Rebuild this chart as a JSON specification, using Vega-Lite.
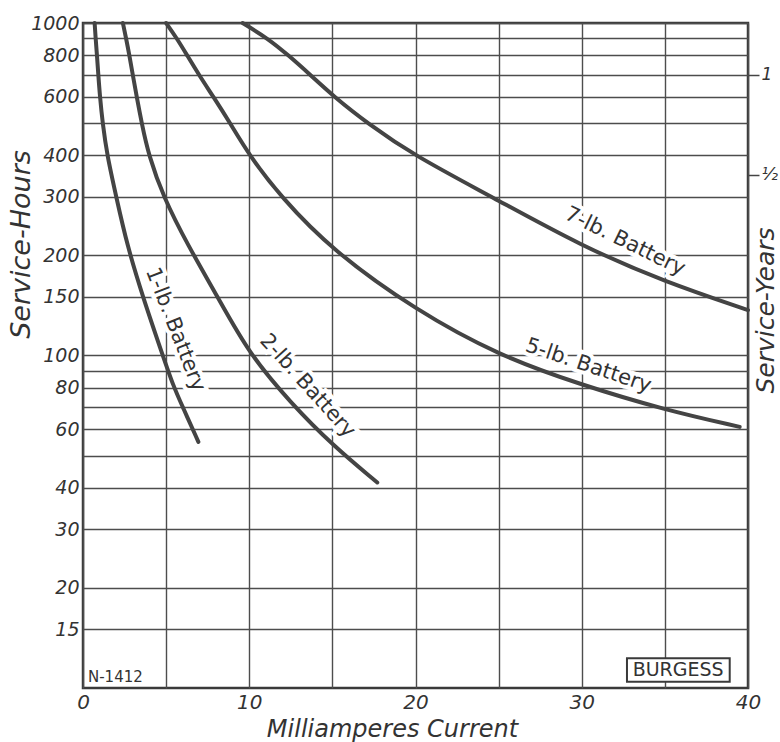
{
  "$schema": "https://vega.github.io/schema/vega-lite/v6.json",
  "width": 665,
  "height": 665,
  "autosize": {"type": "none"},
  "padding": {"left": 83, "top": 23, "right": 32, "bottom": 54},
  "background": "white",
  "config": {"view": {"stroke": "#3a3a3a", "strokeWidth": 2.5}, "font": "DejaVu Sans"},
  "datasets": {
    "curves": [
      {"battery": "1-lb", "ma": 0.7, "hours": 1000},
      {"battery": "1-lb", "ma": 0.76, "hours": 900},
      {"battery": "1-lb", "ma": 0.84, "hours": 800},
      {"battery": "1-lb", "ma": 0.92, "hours": 700},
      {"battery": "1-lb", "ma": 1.02, "hours": 600},
      {"battery": "1-lb", "ma": 1.18, "hours": 500},
      {"battery": "1-lb", "ma": 1.45, "hours": 400},
      {"battery": "1-lb", "ma": 2.0, "hours": 300},
      {"battery": "1-lb", "ma": 2.65, "hours": 215},
      {"battery": "1-lb", "ma": 3.6, "hours": 150},
      {"battery": "1-lb", "ma": 4.8, "hours": 100},
      {"battery": "1-lb", "ma": 5.43, "hours": 81},
      {"battery": "1-lb", "ma": 6.0, "hours": 70},
      {"battery": "1-lb", "ma": 6.94, "hours": 55},
      {"battery": "2-lb", "ma": 2.4, "hours": 1000},
      {"battery": "2-lb", "ma": 2.59, "hours": 900},
      {"battery": "2-lb", "ma": 2.79, "hours": 800},
      {"battery": "2-lb", "ma": 2.99, "hours": 700},
      {"battery": "2-lb", "ma": 3.23, "hours": 600},
      {"battery": "2-lb", "ma": 3.53, "hours": 500},
      {"battery": "2-lb", "ma": 3.95, "hours": 400},
      {"battery": "2-lb", "ma": 4.83, "hours": 300},
      {"battery": "2-lb", "ma": 6.3, "hours": 215},
      {"battery": "2-lb", "ma": 8.1, "hours": 150},
      {"battery": "2-lb", "ma": 10.0, "hours": 101},
      {"battery": "2-lb", "ma": 12.5, "hours": 72},
      {"battery": "2-lb", "ma": 15.0, "hours": 53.8},
      {"battery": "2-lb", "ma": 17.7, "hours": 41.5},
      {"battery": "5-lb", "ma": 5.0, "hours": 1000},
      {"battery": "5-lb", "ma": 5.64, "hours": 900},
      {"battery": "5-lb", "ma": 6.26, "hours": 800},
      {"battery": "5-lb", "ma": 6.96, "hours": 700},
      {"battery": "5-lb", "ma": 7.84, "hours": 600},
      {"battery": "5-lb", "ma": 8.85, "hours": 500},
      {"battery": "5-lb", "ma": 10.0, "hours": 400},
      {"battery": "5-lb", "ma": 11.9, "hours": 300},
      {"battery": "5-lb", "ma": 15.0, "hours": 207},
      {"battery": "5-lb", "ma": 20.0, "hours": 137},
      {"battery": "5-lb", "ma": 25.0, "hours": 100},
      {"battery": "5-lb", "ma": 30.0, "hours": 81.5},
      {"battery": "5-lb", "ma": 35.0, "hours": 68.6},
      {"battery": "5-lb", "ma": 39.5, "hours": 61},
      {"battery": "7-lb", "ma": 9.6, "hours": 1000},
      {"battery": "7-lb", "ma": 11.1, "hours": 900},
      {"battery": "7-lb", "ma": 12.35, "hours": 800},
      {"battery": "7-lb", "ma": 13.65, "hours": 700},
      {"battery": "7-lb", "ma": 15.1, "hours": 600},
      {"battery": "7-lb", "ma": 17.1, "hours": 500},
      {"battery": "7-lb", "ma": 19.9, "hours": 400},
      {"battery": "7-lb", "ma": 24.6, "hours": 300},
      {"battery": "7-lb", "ma": 30.0, "hours": 213},
      {"battery": "7-lb", "ma": 35.0, "hours": 166.7},
      {"battery": "7-lb", "ma": 40.0, "hours": 137}
    ],
    "labels": [
      {"battery": "1-lb", "text": "1-lb. Battery", "ma": 5.55, "hours": 119.7},
      {"battery": "2-lb", "text": "2-lb. Battery", "ma": 13.5, "hours": 81},
      {"battery": "5-lb", "text": "5-lb. Battery", "ma": 30.4, "hours": 93},
      {"battery": "7-lb", "text": "7-lb. Battery", "ma": 32.6, "hours": 220}
    ],
    "notes": [
      {"text": "N-1412", "ma": 0.3, "hours": 10.45}
    ],
    "box": [
      {"text": "BURGESS", "x1": 32.72, "x2": 38.9, "y1": 10.45, "y2": 12.28, "xm": 35.8, "ym": 11.33}
    ]
  },
  "resolve": {"axis": {"x": "independent", "y": "independent"}},
  "layer": [
    {
      "data": {"name": "labels"},
      "transform": [{"filter": "datum.battery === '1-lb'"}],
      "mark": {"type": "text", "angle": 68.6, "align": "center", "baseline": "middle", "fontSize": 21, "color": "white", "stroke": "white", "strokeWidth": 8},
      "encoding": {
        "x": {"field": "ma", "type": "quantitative", "axis": null},
        "y": {"field": "hours", "type": "quantitative", "axis": null},
        "text": {"field": "text"}
      }
    },
    {
      "data": {"name": "labels"},
      "transform": [{"filter": "datum.battery === '2-lb'"}],
      "mark": {"type": "text", "angle": 48, "align": "center", "baseline": "middle", "fontSize": 21, "color": "white", "stroke": "white", "strokeWidth": 8},
      "encoding": {
        "x": {"field": "ma", "type": "quantitative", "axis": null},
        "y": {"field": "hours", "type": "quantitative", "axis": null},
        "text": {"field": "text"}
      }
    },
    {
      "data": {"name": "labels"},
      "transform": [{"filter": "datum.battery === '5-lb'"}],
      "mark": {"type": "text", "angle": 18.6, "align": "center", "baseline": "middle", "fontSize": 21, "color": "white", "stroke": "white", "strokeWidth": 8},
      "encoding": {
        "x": {"field": "ma", "type": "quantitative", "axis": null},
        "y": {"field": "hours", "type": "quantitative", "axis": null},
        "text": {"field": "text"}
      }
    },
    {
      "data": {"name": "labels"},
      "transform": [{"filter": "datum.battery === '7-lb'"}],
      "mark": {"type": "text", "angle": 26, "align": "center", "baseline": "middle", "fontSize": 21, "color": "white", "stroke": "white", "strokeWidth": 8},
      "encoding": {
        "x": {"field": "ma", "type": "quantitative", "axis": null},
        "y": {"field": "hours", "type": "quantitative", "axis": null},
        "text": {"field": "text"}
      }
    },
    {
      "data": {"name": "curves"},
      "mark": {"type": "line", "interpolate": "basis", "strokeWidth": 4, "color": "#444444", "strokeCap": "round"},
      "encoding": {
        "x": {
          "field": "ma", "type": "quantitative",
          "scale": {"domain": [0, 40], "nice": false},
          "axis": {
            "values": [0, 5, 10, 15, 20, 25, 30, 35, 40],
            "labelExpr": "datum.value % 10 === 0 ? datum.label : ''",
            "grid": true, "gridColor": "#4d4d4d", "gridWidth": 1.4, "gridOpacity": 1,
            "ticks": false, "domain": false,
            "labelFontSize": 20, "labelFontStyle": "italic", "labelColor": "#333333",
            "labelPadding": 4, "labelFlush": false, "labelOverlap": false,
            "title": "Milliamperes Current", "titleFontSize": 24, "titleFontStyle": "italic",
            "titleFontWeight": "normal", "titleColor": "#333333",
            "titleX": 309, "titleY": 48, "titleAlign": "center", "titleBaseline": "alphabetic"
          }
        },
        "y": {
          "field": "hours", "type": "quantitative",
          "scale": {"type": "log", "domain": [10, 1000], "nice": false},
          "axis": {
            "orient": "left",
            "values": [15, 20, 30, 40, 50, 60, 70, 80, 90, 100, 150, 200, 300, 400, 500, 600, 700, 800, 900, 1000],
            "format": "d",
            "labelExpr": "(datum.value === 900 || datum.value === 700 || datum.value === 500 || datum.value === 90 || datum.value === 70 || datum.value === 50) ? '' : datum.label",
            "grid": true, "gridColor": "#4d4d4d", "gridWidth": 1.4, "gridOpacity": 1,
            "ticks": false, "domain": false,
            "labelFontSize": 19, "labelFontStyle": "italic", "labelColor": "#333333",
            "labelPadding": 4, "labelOverlap": false,
            "title": "Service-Hours", "titleFontSize": 27, "titleFontStyle": "italic",
            "titleFontWeight": "normal", "titleColor": "#333333",
            "titleAngle": 270, "titleX": -62, "titleY": 221, "titleAlign": "center", "titleBaseline": "middle"
          }
        },
        "detail": {"field": "battery"}
      }
    },
    {
      "data": {"name": "notes"},
      "mark": {"type": "text", "align": "left", "baseline": "alphabetic", "fontSize": 15, "color": "#333333"},
      "encoding": {
        "x": {"field": "ma", "type": "quantitative", "axis": null},
        "y": {
          "field": "hours", "type": "quantitative",
          "axis": {
            "orient": "right",
            "values": [350, 700],
            "labelExpr": "datum.value === 700 ? '1' : '½'",
            "ticks": true, "tickSize": 11, "tickWidth": 1.5, "tickColor": "#444444",
            "domain": false, "grid": false,
            "labelFontSize": 17, "labelFontStyle": "italic", "labelColor": "#333333", "labelPadding": 2,
            "title": "Service-Years", "titleFontSize": 25, "titleFontStyle": "italic",
            "titleFontWeight": "normal", "titleColor": "#333333",
            "titleAngle": 270, "titleX": 17, "titleY": 287, "titleAlign": "center", "titleBaseline": "middle"
          }
        },
        "text": {"field": "text"}
      }
    },
    {
      "data": {"name": "box"},
      "mark": {"type": "rect", "fill": "white", "stroke": "#3a3a3a", "strokeWidth": 2},
      "encoding": {
        "x": {"field": "x1", "type": "quantitative", "axis": null},
        "x2": {"field": "x2"},
        "y": {"field": "y1", "type": "quantitative", "axis": null},
        "y2": {"field": "y2"}
      }
    },
    {
      "data": {"name": "box"},
      "mark": {"type": "text", "align": "center", "baseline": "middle", "fontSize": 19, "color": "#333333"},
      "encoding": {
        "x": {"field": "xm", "type": "quantitative", "axis": null},
        "y": {"field": "ym", "type": "quantitative", "axis": null},
        "text": {"field": "text"}
      }
    },
    {
      "data": {"name": "labels"},
      "transform": [{"filter": "datum.battery === '1-lb'"}],
      "mark": {"type": "text", "angle": 68.6, "align": "center", "baseline": "middle", "fontSize": 21, "color": "#333333"},
      "encoding": {
        "x": {"field": "ma", "type": "quantitative", "axis": null},
        "y": {"field": "hours", "type": "quantitative", "axis": null},
        "text": {"field": "text"}
      }
    },
    {
      "data": {"name": "labels"},
      "transform": [{"filter": "datum.battery === '2-lb'"}],
      "mark": {"type": "text", "angle": 48, "align": "center", "baseline": "middle", "fontSize": 21, "color": "#333333"},
      "encoding": {
        "x": {"field": "ma", "type": "quantitative", "axis": null},
        "y": {"field": "hours", "type": "quantitative", "axis": null},
        "text": {"field": "text"}
      }
    },
    {
      "data": {"name": "labels"},
      "transform": [{"filter": "datum.battery === '5-lb'"}],
      "mark": {"type": "text", "angle": 18.6, "align": "center", "baseline": "middle", "fontSize": 21, "color": "#333333"},
      "encoding": {
        "x": {"field": "ma", "type": "quantitative", "axis": null},
        "y": {"field": "hours", "type": "quantitative", "axis": null},
        "text": {"field": "text"}
      }
    },
    {
      "data": {"name": "labels"},
      "transform": [{"filter": "datum.battery === '7-lb'"}],
      "mark": {"type": "text", "angle": 26, "align": "center", "baseline": "middle", "fontSize": 21, "color": "#333333"},
      "encoding": {
        "x": {"field": "ma", "type": "quantitative", "axis": null},
        "y": {"field": "hours", "type": "quantitative", "axis": null},
        "text": {"field": "text"}
      }
    }
  ]
}
